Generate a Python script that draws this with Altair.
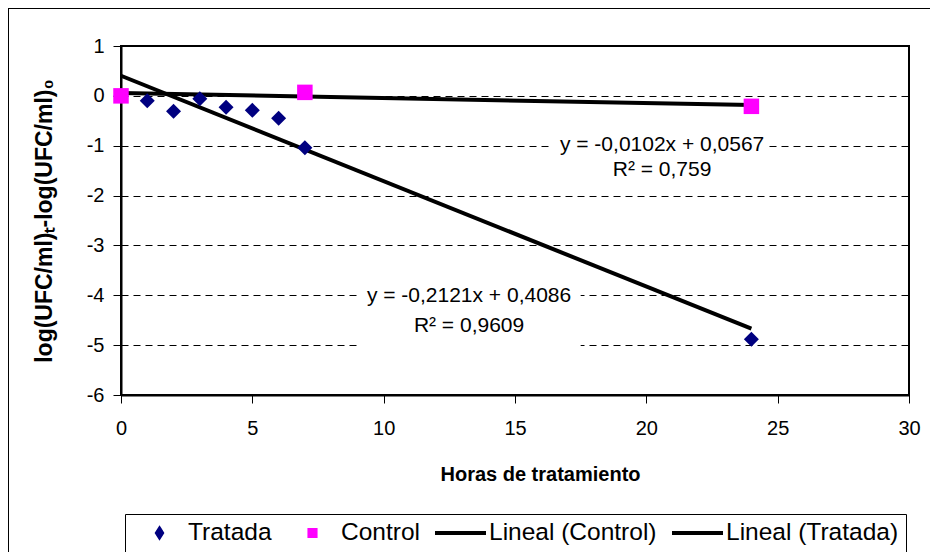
import altair as alt
import pandas as pd

# ---- data ----
tratada_x = [0, 1, 2, 3, 4, 5, 6, 7, 24]
tratada_y = [0.0, -0.10, -0.31, -0.06, -0.23, -0.29, -0.45, -1.04, -4.88]
control_x = [0, 7, 24]
control_y = [0.0, 0.07, -0.21]

series_names = ["Tratada", "Control", "Lineal (Control)", "Lineal (Tratada)"]
series_colors = ["#000080", "#FF00FF", "#000000", "#000000"]
# legend glyphs: small diamond, small square, long line (unit box scaled by sqrt(symbolSize)/2)
series_shapes = ["M0,-0.16L0.1,0L0,0.16L-0.1,0Z",
                 "M-0.12,-0.12H0.12V0.12H-0.12Z",
                 "M-1,0H1",
                 "M-1,0H1"]

x_ticks = [0, 5, 10, 15, 20, 25, 30]
y_ticks = [1, 0, -1, -2, -3, -4, -5, -6]

eq_text = ["y = -0,0102x + 0,0567", "R² = 0,759", "y = -0,2121x + 0,4086", "R² = 0,9609"]
eq_x = [20.6, 20.6, 13.25, 13.25]
eq_y = [-0.98, -1.48, -4.01, -4.61]

box_x = [16.4, 9.0]
box_x2 = [24.6, 17.5]
box_y = [-0.72, -3.75]
box_y2 = [-1.76, -5.2]

FONT = "Liberation Sans"

df_t = pd.DataFrame({"x": tratada_x, "y": tratada_y})
df_c = pd.DataFrame({"x": control_x, "y": control_y})
df_eq = pd.DataFrame({"x": eq_x, "y": eq_y, "t": eq_text})
df_box = pd.DataFrame({"x": box_x, "x2": box_x2, "y": box_y, "y2": box_y2})
df_leg = pd.DataFrame({"series": series_names, "x": [0] * 4, "y": [0] * 4})

xscale = alt.Scale(domain=[0, 30], nice=False, zero=False)
yscale = alt.Scale(domain=[-6, 1], nice=False, zero=False)

xaxis = alt.Axis(values=x_ticks, grid=False, title="Horas de tratamiento",
                 labelExpr="'' + datum.value", labelFlush=False,
                 tickSize=8, tickColor="black", tickWidth=1,
                 domainColor="black", domainWidth=2,
                 labelFont=FONT, labelFontSize=20, labelColor="black", labelPadding=15,
                 titleFont=FONT, titleFontSize=20, titleFontWeight="bold", titleColor="black",
                 titleX=419, titleY=79, titleAlign="center", titleBaseline="middle")
yaxis = alt.Axis(values=y_ticks, grid=True, gridColor="black", gridDash=[7, 5], gridWidth=1,
                 title="log(UFC/ml)ₜ-log(UFC/ml)₀",
                 labelExpr="'' + datum.value", labelFlush=False,
                 tickSize=8, tickColor="black", tickWidth=1,
                 domainColor="black", domainWidth=2,
                 labelFont=FONT, labelFontSize=20, labelColor="black", labelPadding=9,
                 titleFont=FONT, titleFontSize=23, titleFontWeight="bold", titleColor="black",
                 titlePadding=30)

x_enc = alt.X("x:Q", scale=xscale, axis=xaxis)
y_enc = alt.Y("y:Q", scale=yscale, axis=yaxis)

boxes = alt.Chart(df_box).mark_rect(fill="white").encode(
    x=x_enc, x2="x2:Q", y=y_enc, y2="y2:Q")

eqs = alt.Chart(df_eq).mark_text(font=FONT, fontSize=21, color="black",
                                 align="center", baseline="middle").encode(
    x=x_enc, y=y_enc, text="t:N")

fit_c = alt.Chart(df_c).transform_regression("x", "y", method="linear").mark_line(
    color="black", strokeWidth=4).encode(x=x_enc, y=y_enc)
fit_t = alt.Chart(df_t).transform_regression("x", "y", method="linear").mark_line(
    color="black", strokeWidth=4).encode(x=x_enc, y=y_enc)

pts_t = alt.Chart(df_t).mark_point(shape="diamond", filled=True, color="#000080",
                                   size=225, opacity=1).encode(x=x_enc, y=y_enc)
pts_c = alt.Chart(df_c).mark_point(shape="square", filled=True, color="#FF00FF",
                                   size=240, opacity=1).encode(x=x_enc, y=y_enc)

legend = alt.Legend(title=None, orient="none", legendX=4, legendY=468,
                    direction="horizontal", strokeColor="black", fillColor="white",
                    padding=7, labelFont=FONT, labelFontSize=24.5, labelColor="black",
                    labelOffset=1, labelLimit=400, columnPadding=13, symbolStrokeWidth=4,
                    symbolSize=2601, clipHeight=24, symbolOpacity=1)

leg = alt.Chart(df_leg).transform_filter("datum.x > 100").mark_point(
    filled=True, strokeWidth=4, opacity=1).encode(
    x=x_enc, y=y_enc,
    color=alt.Color("series:N", scale=alt.Scale(domain=series_names, range=series_colors),
                    legend=legend),
    stroke=alt.Stroke("series:N", scale=alt.Scale(domain=series_names, range=series_colors),
                      legend=legend),
    shape=alt.Shape("series:N", scale=alt.Scale(domain=series_names, range=series_shapes),
                    legend=legend),
)

frame_left = alt.Chart(df_leg).mark_rule(color="black", strokeWidth=1).encode(
    x=alt.value(-112.5), y=alt.value(-38), y2=alt.value(520))
frame_top = alt.Chart(df_leg).mark_rule(color="black", strokeWidth=1).encode(
    x=alt.value(-113), x2=alt.value(820), y=alt.value(-37.5))

chart = alt.layer(boxes, eqs, fit_c, fit_t, pts_t, pts_c, leg, frame_left, frame_top).properties(
    width=788, height=349,
    padding={"left": 113, "top": 38, "right": 21, "bottom": 157},
    autosize=alt.AutoSizeParams(type="none"),
    background="white",
).configure_view(stroke="black", strokeWidth=2)

chart.save("out.html", embed_options={"renderer": "svg", "actions": False})
